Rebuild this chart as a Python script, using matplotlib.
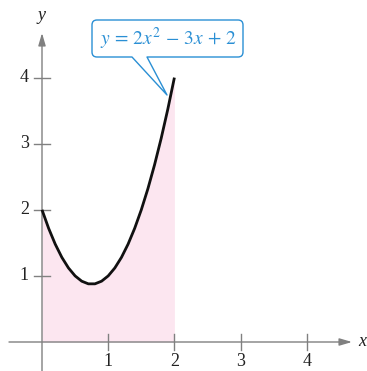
import matplotlib
matplotlib.use("Agg")
import matplotlib.pyplot as plt
from matplotlib.path import Path
from matplotlib.patches import PathPatch

# curve points (y = 2x^2 - 3x + 2 on [0, 2])
x_vals = [0.0, 0.1, 0.2, 0.3, 0.4, 0.5, 0.6, 0.7, 0.8, 0.9, 1.0,
          1.1, 1.2, 1.3, 1.4, 1.5, 1.6, 1.7, 1.8, 1.9, 2.0]
y_vals = [2.00, 1.72, 1.48, 1.28, 1.12, 1.00, 0.92, 0.88, 0.88, 0.92, 1.00,
          1.12, 1.28, 1.48, 1.72, 2.00, 2.32, 2.68, 3.08, 3.52, 4.00]

x_ticks = [1, 2, 3, 4]
y_ticks = [1, 2, 3, 4]
x_tick_labels = ["1", "2", "3", "4"]
y_tick_labels = ["1", "2", "3", "4"]
callout_label = r"$y\,=\,2x^2\,-\,3x\,+\,2$"

GRAY = "#808080"
BLUE = "#2a8fd4"
PINK = "#fce6f0"

plt.rcParams["font.family"] = ["Liberation Serif", "DejaVu Serif"]
plt.rcParams["mathtext.fontset"] = "stix"

W, H = 367, 371
X0, Y0, SX, SY = 42, 342, 66.2, 66.1  # pixel origin and pixels per unit


def px(xp, yp):
    return (xp - X0) / SX, (Y0 - yp) / SY


fig = plt.figure(figsize=(W / 100, H / 100), dpi=100)
ax = fig.add_axes([0, 0, 1, 1])
ax.set_xlim(-X0 / SX, (W - X0) / SX)
ax.set_ylim((Y0 - H) / SY, Y0 / SY)
ax.axis("off")

# shaded region and curve
ax.fill_between(x_vals, y_vals, 0, color=PINK, lw=0, zorder=1)
ax.plot(x_vals, y_vals, color="#111111", lw=2.0, solid_joinstyle="round",
        solid_capstyle="butt", zorder=4)

# axes with arrows
arrow = dict(arrowstyle="-|>,head_length=0.75,head_width=0.22", color=GRAY,
             lw=1.0, mutation_scale=10, shrinkA=0, shrinkB=0)
ax.annotate("", xy=px(352, Y0), xytext=px(9, Y0), arrowprops=arrow, zorder=2)
ax.annotate("", xy=px(X0, 33), xytext=px(X0, H + 2), arrowprops=arrow, zorder=2)

t = 8 / SX
for xv, lab in zip(x_ticks, x_tick_labels):
    ax.plot([xv, xv], [-t, t], color=GRAY, lw=1.0, zorder=2)
    ax.text(xv, px(0, 362)[1], lab, ha="center", va="center", fontsize=13,
            color="#222222")
for yv, lab in zip(y_ticks, y_tick_labels):
    ax.plot([-t, t], [yv, yv], color=GRAY, lw=1.0, zorder=2)
    ax.text(px(29, 0)[0], yv, lab, ha="right", va="center", fontsize=13,
            color="#222222")

ax.text(*px(X0, 15), "y", ha="center", va="center", fontsize=13,
        style="italic", color="#222222")
ax.text(*px(362, Y0), "x", ha="center", va="center", fontsize=13,
        style="italic", color="#222222")

# callout box with pointer
l, r, tp, bt, rad = 92, 243, 20, 57, 5
pts = [(132, bt), (l + rad, bt), (l, bt), (l, bt - rad), (l, tp + rad), (l, tp),
       (l + rad, tp), (r - rad, tp), (r, tp), (r, tp + rad), (r, bt - rad),
       (r, bt), (r - rad, bt), (147, bt), (167, 95), (132, bt)]
codes = [Path.MOVETO, Path.LINETO, Path.CURVE3, Path.CURVE3, Path.LINETO,
         Path.CURVE3, Path.CURVE3, Path.LINETO, Path.CURVE3, Path.CURVE3,
         Path.LINETO, Path.CURVE3, Path.CURVE3, Path.LINETO, Path.LINETO,
         Path.CLOSEPOLY]
callout = Path([px(a, b) for a, b in pts], codes)
ax.add_patch(PathPatch(callout, facecolor="white", edgecolor=BLUE, lw=1.0,
                       joinstyle="round", zorder=5))
ax.text(*px(168.5, 39), callout_label, ha="center", va="center",
        fontsize=14, color=BLUE, zorder=6)

fig.savefig("out.png", dpi=100)
